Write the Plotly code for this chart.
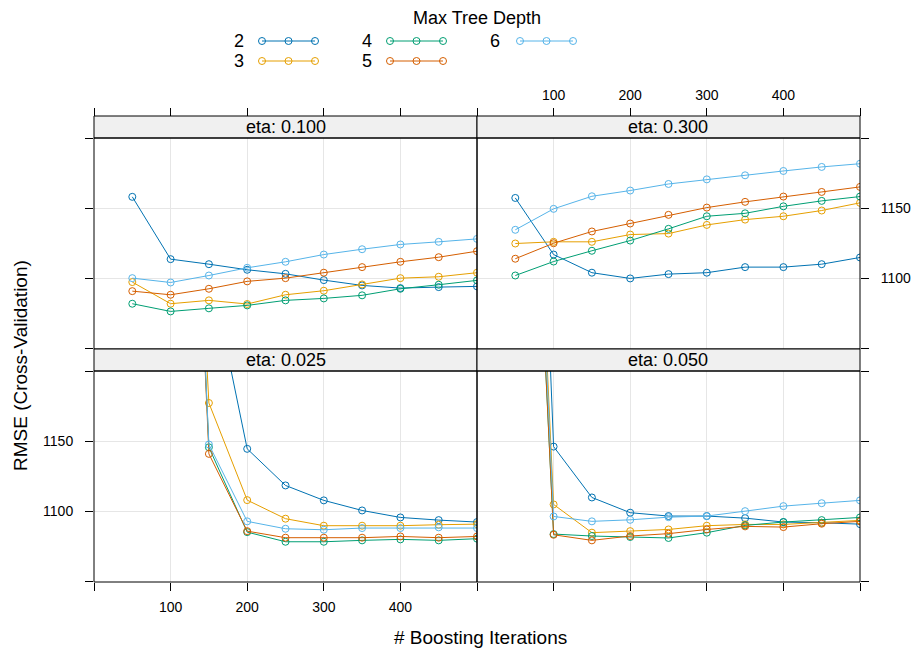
import plotly.graph_objects as go

# ---------------- data ----------------
iterations = [50, 100, 150, 200, 250, 300, 350, 400, 450, 500]
depths = [2, 3, 4, 5, 6]
depth_colors = {2: "#0072B2", 3: "#E69F00", 4: "#009E73", 5: "#D55E00", 6: "#56B4E9"}

x_tickvals = [0, 100, 200, 300, 400, 500]
x_ticktext = ["", "100", "200", "300", "400", ""]
y_tickvals = [1050, 1100, 1150, 1200]
y_ticktext = ["", "1100", "1150", ""]

rmse_eta_0100 = {
    2: [1158.4, 1113.8, 1110.2, 1106.2, 1103.3, 1098.8, 1095.0, 1093.1, 1093.8, 1094.3],
    3: [1097.4, 1081.9, 1084.3, 1081.7, 1088.3, 1091.2, 1095.7, 1100.2, 1101.2, 1104.1],
    4: [1081.9, 1076.4, 1078.6, 1080.7, 1084.3, 1085.7, 1087.9, 1092.6, 1095.5, 1098.6],
    5: [1090.9, 1088.3, 1092.6, 1097.9, 1100.2, 1104.1, 1108.1, 1111.9, 1115.2, 1119.5],
    6: [1100.2, 1097.1, 1102.1, 1107.6, 1111.9, 1117.1, 1120.9, 1124.3, 1126.2, 1128.3],
}
rmse_eta_0300 = {
    2: [1157.6, 1117.1, 1104.1, 1100.0, 1103.1, 1104.1, 1108.1, 1108.1, 1110.2, 1115.0],
    3: [1125.0, 1126.2, 1126.2, 1131.4, 1132.1, 1138.3, 1142.1, 1144.5, 1148.6, 1154.1],
    4: [1102.1, 1112.1, 1119.8, 1127.1, 1135.5, 1144.5, 1146.6, 1151.6, 1155.5, 1158.6],
    5: [1114.1, 1125.2, 1133.6, 1139.3, 1145.5, 1150.7, 1154.8, 1158.6, 1161.9, 1165.5],
    6: [1134.8, 1149.8, 1158.8, 1162.9, 1167.6, 1170.9, 1173.8, 1176.9, 1179.8, 1182.1],
}
rmse_eta_0025 = {
    2: [3400.0, 1950.0, 1278.0, 1144.8, 1118.6, 1107.9, 1100.7, 1095.7, 1093.8, 1092.4],
    3: [3300.0, 1690.0, 1177.6, 1108.1, 1094.8, 1089.8, 1089.8, 1089.8, 1090.5, 1090.9],
    4: [3300.0, 1750.0, 1145.9, 1085.2, 1078.3, 1078.3, 1079.3, 1080.0, 1079.3, 1080.5],
    5: [3300.0, 1760.0, 1141.2, 1085.9, 1081.2, 1081.2, 1081.2, 1082.1, 1081.2, 1082.1],
    6: [3300.0, 1750.0, 1147.9, 1092.9, 1087.6, 1086.9, 1088.1, 1088.1, 1088.6, 1088.1],
}
rmse_eta_0050 = {
    2: [1830.0, 1146.4, 1110.0, 1099.1, 1096.7, 1096.7, 1095.2, 1092.4, 1091.9, 1090.9],
    3: [1700.0, 1105.0, 1084.8, 1085.9, 1087.1, 1089.8, 1090.7, 1090.7, 1091.9, 1093.6],
    4: [1650.0, 1083.8, 1082.4, 1081.7, 1081.0, 1084.8, 1090.0, 1092.4, 1093.8, 1095.7],
    5: [1660.0, 1083.3, 1079.3, 1082.4, 1084.1, 1087.1, 1089.3, 1088.8, 1091.2, 1092.9],
    6: [1680.0, 1096.4, 1092.9, 1094.0, 1095.9, 1096.7, 1100.2, 1103.8, 1105.9, 1107.9],
}

# ---------------- layout geometry (pixels) ----------------
W, H = 911, 650
FONT = "Liberation Sans, Arial, sans-serif"


def px(x):
    return x / W


def py(y):
    return 1 - y / H


X_LEFT = (94, 477)
X_RIGHT = (477, 860)
Y_TOP = (138, 349)
Y_BOT = (371, 582)
STRIP_TOP = (116, 138)
STRIP_BOT = (349, 371)
X_RANGE = [0, 500]
Y_RANGE = [1049.5, 1200.5]
GRID = "#e6e6e6"

panels = [
    dict(eta="0.100", data=rmse_eta_0100, xs=X_LEFT, ys=Y_TOP, strip=STRIP_TOP, xa="x", ya="y"),
    dict(eta="0.300", data=rmse_eta_0300, xs=X_RIGHT, ys=Y_TOP, strip=STRIP_TOP, xa="x2", ya="y2"),
    dict(eta="0.025", data=rmse_eta_0025, xs=X_LEFT, ys=Y_BOT, strip=STRIP_BOT, xa="x3", ya="y3"),
    dict(eta="0.050", data=rmse_eta_0050, xs=X_RIGHT, ys=Y_BOT, strip=STRIP_BOT, xa="x4", ya="y4"),
]

fig = go.Figure()

for p in panels:
    for d in depths:
        fig.add_trace(go.Scatter(
            x=iterations, y=p["data"][d], mode="lines+markers",
            line=dict(color=depth_colors[d], width=1),
            marker=dict(symbol="circle-open", size=7, color=depth_colors[d], line=dict(width=1)),
            xaxis=p["xa"], yaxis=p["ya"], showlegend=False, hoverinfo="skip",
        ))

# empty traces so the top tick axes are created
fig.add_trace(go.Scatter(x=[], y=[], xaxis="x5", yaxis="y", showlegend=False, hoverinfo="skip"))
fig.add_trace(go.Scatter(x=[], y=[], xaxis="x6", yaxis="y2", showlegend=False, hoverinfo="skip"))

tickfont = dict(family=FONT, size=14, color="black")


def xaxis(domain, anchor, ticks, labels, **kw):
    d = dict(domain=domain, anchor=anchor, range=X_RANGE, tickmode="array",
             tickvals=x_tickvals, ticktext=x_ticktext, ticks=ticks, ticklen=8,
             tickwidth=1, tickcolor="black", showticklabels=labels, tickfont=tickfont,
             showgrid=True, gridcolor=GRID, gridwidth=1, zeroline=False, showline=False,
             fixedrange=True)
    d.update(kw)
    return d


def yaxis(domain, anchor, side, labels):
    return dict(domain=domain, anchor=anchor, side=side, range=Y_RANGE, tickmode="array",
                tickvals=y_tickvals, ticktext=y_ticktext, ticks="outside", ticklen=8,
                tickwidth=1, tickcolor="black", showticklabels=labels, tickfont=tickfont,
                ticklabelstandoff=9, showgrid=True, gridcolor=GRID, gridwidth=1,
                zeroline=False, showline=False, fixedrange=True)


dxl = [px(X_LEFT[0]), px(X_LEFT[1])]
dxr = [px(X_RIGHT[0]), px(X_RIGHT[1])]
dyt = [py(Y_TOP[1]), py(Y_TOP[0])]
dyb = [py(Y_BOT[1]), py(Y_BOT[0])]

fig.update_layout(
    xaxis=xaxis(dxl, "y", "", False),
    xaxis2=xaxis(dxr, "y2", "", False),
    xaxis3=xaxis(dxl, "y3", "outside", True, ticklabelstandoff=4),
    xaxis4=xaxis(dxr, "y4", "outside", False),
    xaxis5=xaxis(dxl, "free", "outside", False, overlaying="x", side="top",
                 position=py(STRIP_TOP[0]), showgrid=False),
    xaxis6=xaxis(dxr, "free", "outside", True, overlaying="x2", side="top",
                 position=py(STRIP_TOP[0]), showgrid=False, ticklabelstandoff=2),
    yaxis=yaxis(dyt, "x", "left", False),
    yaxis2=yaxis(dyt, "x2", "right", True),
    yaxis3=yaxis(dyb, "x3", "left", True),
    yaxis4=yaxis(dyb, "x4", "right", False),
)

shapes = []
annotations = []
for p in panels:
    x0, x1 = px(p["xs"][0]), px(p["xs"][1])
    # strip
    shapes.append(dict(type="rect", xref="paper", yref="paper", x0=x0, x1=x1,
                       y0=py(p["strip"][1]), y1=py(p["strip"][0]),
                       fillcolor="#f0f0f0", line=dict(color="black", width=1), layer="above"))
    annotations.append(dict(xref="paper", yref="paper", x=(x0 + x1) / 2,
                            y=py((p["strip"][0] + p["strip"][1]) / 2),
                            text="eta: " + p["eta"], showarrow=False,
                            font=dict(family=FONT, size=18, color="black"),
                            xanchor="center", yanchor="middle"))
    # panel frame
    shapes.append(dict(type="rect", xref="paper", yref="paper", x0=x0, x1=x1,
                       y0=py(p["ys"][1]), y1=py(p["ys"][0]),
                       fillcolor="rgba(0,0,0,0)", line=dict(color="black", width=1), layer="above"))

# axis titles
annotations.append(dict(xref="paper", yref="paper", x=px(21), y=py(366),
                        text="RMSE (Cross-Validation)", textangle=-90, showarrow=False,
                        font=dict(family=FONT, size=19, color="black"),
                        xanchor="center", yanchor="middle"))
annotations.append(dict(xref="paper", yref="paper", x=px(480), y=py(637),
                        text="# Boosting Iterations", showarrow=False,
                        font=dict(family=FONT, size=19, color="black"),
                        xanchor="center", yanchor="middle"))

# legend (drawn as in lattice: label, then line with three points)
annotations.append(dict(xref="paper", yref="paper", x=px(477), y=py(18),
                        text="Max Tree Depth", showarrow=False,
                        font=dict(family=FONT, size=18, color="black"),
                        xanchor="center", yanchor="middle"))
legend_cols = {2: (239, 262), 3: (239, 262), 4: (367, 390), 5: (367, 390), 6: (495, 520)}
legend_rows = {2: 41, 3: 61, 4: 41, 5: 61, 6: 41}
LEG_LEN = 53
R = 3.5
for d in depths:
    lx, l0 = legend_cols[d]
    ly = legend_rows[d]
    annotations.append(dict(xref="paper", yref="paper", x=px(lx), y=py(ly), text=str(d),
                            showarrow=False, font=dict(family=FONT, size=18, color="black"),
                            xanchor="center", yanchor="middle"))
    shapes.append(dict(type="line", xref="paper", yref="paper", x0=px(l0), x1=px(l0 + LEG_LEN),
                       y0=py(ly), y1=py(ly), line=dict(color=depth_colors[d], width=1)))
    for k in range(3):
        cx = l0 + k * LEG_LEN / 2
        shapes.append(dict(type="circle", xref="paper", yref="paper",
                           x0=px(cx - R), x1=px(cx + R), y0=py(ly + R), y1=py(ly - R),
                           line=dict(color=depth_colors[d], width=1),
                           fillcolor="rgba(0,0,0,0)"))

fig.update_layout(
    width=W, height=H, margin=dict(l=0, r=0, t=0, b=0),
    paper_bgcolor="white", plot_bgcolor="white", template="none",
    shapes=shapes, annotations=annotations, showlegend=False,
    font=dict(family=FONT, color="black"),
)

fig.write_html("out.html")
